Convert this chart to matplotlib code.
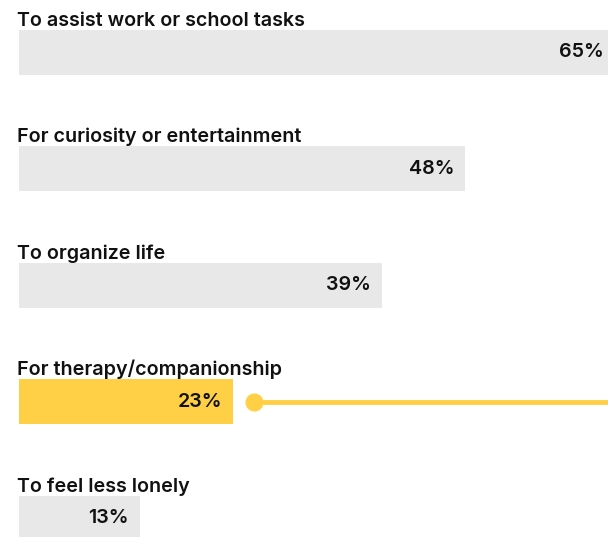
import matplotlib
matplotlib.use("Agg")
import matplotlib.pyplot as plt

categories = ["To assist work or school tasks", "For curiosity or entertainment",
              "To organize life", "For therapy/companionship", "To feel less lonely"]
values = [65, 48, 39, 23, 13]
highlight = "For therapy/companionship"

GRAY = "#E8E8E8"
YELLOW = "#FFD046"
TEXT = "#111111"

W, H = 608, 537
fig = plt.figure(figsize=(W / 100, H / 100), dpi=100)
ax = fig.add_axes([0, 0, 1, 1])

px_per_unit_x = 9.3
left_px = 19
xmin = -left_px / px_per_unit_x
xmax = xmin + W / px_per_unit_x
row_px = 116.6
top_row = -52 / row_px
ax.set_xlim(xmin, xmax)
ax.set_ylim(top_row + H / row_px, top_row)
ax.axis("off")

bar_h = 45 / row_px
font = dict(family=["Inter", "DejaVu Sans"], fontsize=14.2, color=TEXT)

for i, (cat, v) in enumerate(zip(categories, values)):
    col = YELLOW if cat == highlight else GRAY
    ax.barh(i, v, height=bar_h, left=0, color=col, zorder=2)
    ax.text(-0.2, i - bar_h / 2 - 4 / row_px, cat, ha="left", va="baseline",
            fontweight="semibold", **font)
    tx = min(v - 11 / px_per_unit_x, xmax - 4 / px_per_unit_x)
    ax.text(tx, i, f"{v}%", ha="right", va="center",
            fontweight="semibold", **font)
    if cat == highlight:
        x0 = v + 21 / px_per_unit_x
        ax.plot([x0, xmax + 1], [i, i], color=YELLOW, lw=3.5, zorder=2,
                solid_capstyle="butt")
        ax.plot([x0], [i], marker="o", ms=12, color=YELLOW, zorder=3)

fig.savefig("out.png", dpi=100)
